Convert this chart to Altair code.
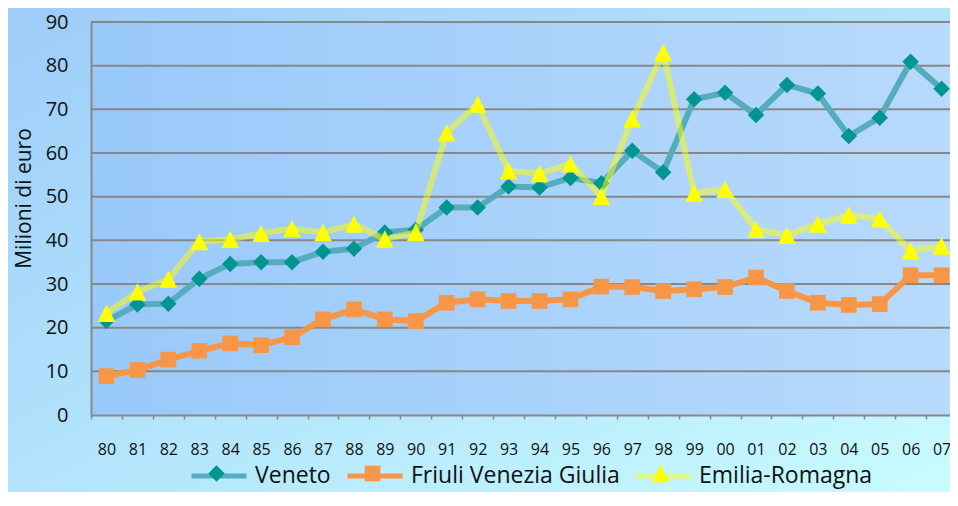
import altair as alt
import pandas as pd

years = ["80", "81", "82", "83", "84", "85", "86", "87", "88", "89",
         "90", "91", "92", "93", "94", "95", "96", "97", "98", "99",
         "00", "01", "02", "03", "04", "05", "06", "07"]
regions = ["Veneto", "Friuli Venezia Giulia", "Emilia-Romagna"]
series_keys = ["s1", "s2", "s3"]
veneto = [21.5, 25.3, 25.5, 31.2, 34.6, 35.0, 35.0, 37.4, 38.1, 41.8,
          42.4, 47.5, 47.5, 52.3, 52.1, 54.3, 53.1, 60.5, 55.6, 72.3,
          73.8, 68.7, 75.6, 73.6, 63.9, 68.1, 80.9, 74.7]
friuli = [8.9, 10.3, 12.7, 14.7, 16.4, 16.0, 17.8, 21.9, 24.2, 21.9,
          21.5, 25.7, 26.5, 26.1, 26.1, 26.5, 29.4, 29.3, 28.4, 28.8,
          29.3, 31.5, 28.4, 25.7, 25.2, 25.4, 32.0, 32.0]
emilia = [23.3, 28.2, 31.1, 39.7, 40.2, 41.6, 42.7, 41.8, 43.7, 40.3,
          41.8, 64.6, 71.2, 55.9, 55.3, 57.5, 50.1, 67.8, 83.0, 50.8,
          51.7, 42.5, 41.2, 43.7, 45.8, 44.9, 37.6, 38.7]
y_ticks = [0, 10, 20, 30, 40, 50, 60, 70, 80, 90]

line_colors = ["#56ACBF", "#F79646", "rgba(255,255,0,0.5)"]
marker_colors = ["#00968F", "#F79646", "#FFFF00"]
marker_paths = [
    "M0,-0.3L0.3,0L0,0.3L-0.3,0Z",
    "M-0.285,-0.285H0.285V0.285H-0.285Z",
    "M0,-0.315L0.32,0.315L-0.32,0.315Z",
]
legend_x = [98, 254, 542]

PAD_L, PAD_T, PAD_B = 83, 14, 77
W, H = 859, 393
STEP = 30.93
FONT = "Open Sans"

frames = []
for reg, key, vals in zip(regions, series_keys, [veneto, friuli, emilia]):
    frames.append(pd.DataFrame({"idx": list(range(len(years))), "year": years,
                                "Regione": reg, "Serie": key, "value": vals}))

year_array = "[" + ",".join(f"'{y}'" for y in years) + "]"
x_enc = alt.X(
    "idx:Q",
    scale=alt.Scale(domain=[-0.5, -0.5 + W / STEP], nice=False, zero=False),
    axis=alt.Axis(title=None, values=[i - 0.5 for i in range(len(years))],
                  labelExpr=f"{year_array}[round(datum.value + 0.5)]",
                  labelOffset=STEP / 2, labelAngle=0, labelOverlap=False, labelFlush=False,
                  labelBound=False, ticks=True, tickSize=4,
                  tickColor="#888888", tickWidth=1.5, domainColor="#888888", domainWidth=2,
                  labelFont=FONT, labelFontSize=16, labelColor="#111111", labelPadding=22,
                  grid=False, zindex=1),
)
y_axis = alt.Axis(values=y_ticks, grid=False, ticks=False, domainColor="#888888", domainWidth=2,
                  labelFont=FONT, labelFontSize=20, labelColor="#111111", labelPadding=23,
                  title="Milioni di euro", titleFont=FONT, titleFontSize=21,
                  titleFontWeight="normal", titleColor="#111111", titleX=-61, titleY=176,
                  titleAngle=270, titleBaseline="alphabetic", titleAlign="center", zindex=1)
y_scale = alt.Scale(domain=[0, 90], nice=False, zero=True)
y_enc = alt.Y("value:Q", scale=y_scale, axis=y_axis)

legend_common = dict(orient="none", legendY=424, direction="horizontal", title=None,
                     symbolSize=3025, labelFont=FONT, labelFontSize=23, labelColor="#111111",
                     labelOffset=6, labelLimit=400, padding=0)

outer_grad = alt.LinearGradient(
    gradient="linear", x1=0, y1=0, x2=1, y2=1,
    stops=[alt.GradientStop(color="#9DCCF9", offset=0),
           alt.GradientStop(color="#C8FCFF", offset=1)])
plot_grad = alt.LinearGradient(
    gradient="linear", x1=0, y1=0, x2=1, y2=0,
    stops=[alt.GradientStop(color="#99C9FA", offset=0),
           alt.GradientStop(color="#B8DAFB", offset=1)])

one = pd.DataFrame({"k": [1]})
bg = alt.Chart(one).mark_rect(fill=outer_grad).encode(
    x=alt.value(-PAD_L), x2=alt.value(W), y=alt.value(-PAD_T), y2=alt.value(H + PAD_B))
plotbg = alt.Chart(one).mark_rect(fill=plot_grad).encode(
    x=alt.value(0), x2=alt.value(W), y=alt.value(0), y2=alt.value(H))
grid = alt.Chart(pd.DataFrame({"value": y_ticks[1:]})).mark_rule(
    color="#878787", strokeWidth=2).encode(y=y_enc, x=alt.value(0), x2=alt.value(W))

layers = [bg, plotbg, grid]
for i, d in enumerate(frames):
    line = alt.Chart(d).mark_line(strokeWidth=6).encode(
        x=x_enc, y=y_enc,
        color=alt.Color("Regione:N",
                        scale=alt.Scale(domain=[regions[i]], range=[line_colors[i]]),
                        legend=alt.Legend(legendX=legend_x[i], symbolType="stroke",
                                          symbolStrokeWidth=5, **legend_common)),
    )
    pt_leg = alt.Legend(legendX=legend_x[i], labelExpr="''", symbolStrokeWidth=0,
                        **legend_common)
    pts = alt.Chart(d).mark_point(filled=True, size=3025, opacity=1, strokeWidth=0).encode(
        x=x_enc, y=y_enc,
        fill=alt.Fill("Serie:N", scale=alt.Scale(domain=[series_keys[i]], range=[marker_colors[i]]),
                      legend=pt_leg),
        shape=alt.Shape("Serie:N", scale=alt.Scale(domain=[series_keys[i]], range=[marker_paths[i]]),
                        legend=pt_leg),
    )
    layers += [line, pts]

chart = alt.layer(*layers).resolve_scale(
    color="independent", fill="independent", shape="independent"
).properties(
    width=W, height=H,
    autosize=alt.AutoSizeParams(type="none"),
    padding={"left": PAD_L, "top": PAD_T, "right": 0, "bottom": PAD_B},
).configure_view(stroke=None).configure(background="#B0E0FB")

chart.save("out.html", embed_options={"renderer": "svg", "actions": False})
